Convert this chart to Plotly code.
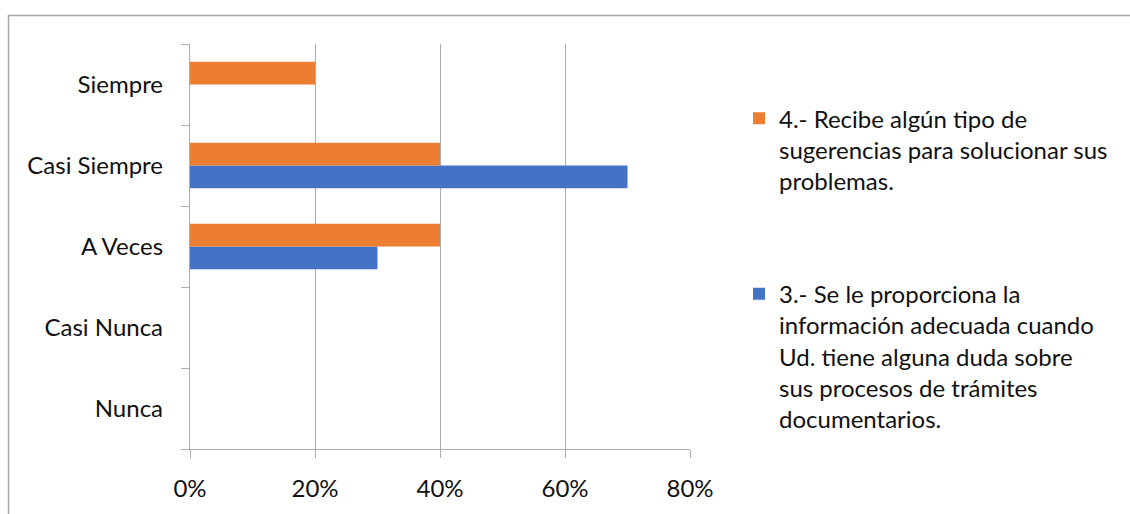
import plotly.graph_objects as go

categories = ["Nunca", "Casi Nunca", "A Veces", "Casi Siempre", "Siempre"]
serie_3 = [0.0, 0.0, 0.30, 0.70, 0.0]
serie_4 = [0.0, 0.0, 0.40, 0.40, 0.20]
name_3 = ("3.- Se le proporciona la<br>información adecuada cuando<br>"
          "Ud. tiene alguna duda sobre<br>sus procesos de trámites<br>documentarios.")
name_4 = "4.- Recibe algún tipo de<br>sugerencias para solucionar sus<br>problemas."
x_ticks = [0, 0.2, 0.4, 0.6, 0.8]
x_labels = ["0%", "20%", "40%", "60%", "80%"]

BLUE = "#4472C4"
ORANGE = "#ED7D31"
GRID = "#ADADAD"
FONT = "Lato"

W, H = 1130, 514
L, R, T, B = 190, 440, 44, 59
PW, PH = W - L - R, H - T - B

fig = go.Figure()
fig.add_trace(go.Bar(y=categories, x=serie_3, name=name_3, orientation="h",
                     marker=dict(color=BLUE, line=dict(width=0)), legend="legend2"))
fig.add_trace(go.Bar(y=categories, x=serie_4, name=name_4, orientation="h",
                     marker=dict(color=ORANGE, line=dict(width=0)), legend="legend"))


def px_x(px):
    return (px - L) / PW


def px_y(py):
    return (H - B - py) / PH


# outer chart frame
fig.add_shape(type="rect", xref="paper", yref="paper",
              x0=px_x(8.5), x1=px_x(1140), y0=px_y(530), y1=px_y(15),
              line=dict(color="#A6A6A6", width=1.5), fillcolor="rgba(0,0,0,0)",
              layer="below")

legend_common = dict(
    font=dict(family=FONT, size=24, color="#111111"),
    bgcolor="rgba(0,0,0,0)", borderwidth=0,
    xanchor="left", yanchor="top", valign="top",
    itemclick=False, itemdoubleclick=False,
)

fig.update_layout(
    width=W, height=H,
    margin=dict(l=L, r=R, t=T, b=B, pad=0),
    paper_bgcolor="white", plot_bgcolor="white",
    barmode="group", bargap=0.44, bargroupgap=0,
    font=dict(family=FONT, size=24, color="#111111"),
    showlegend=True,
    legend=dict(x=px_x(739), y=px_y(97), **legend_common),
    legend2=dict(x=px_x(739), y=px_y(275), **legend_common),
    xaxis=dict(range=[0, 0.8], tickvals=x_ticks, ticktext=x_labels,
               showgrid=True, gridcolor=GRID, gridwidth=1.3,
               showline=True, linecolor=GRID, linewidth=1.3,
               ticks="outside", ticklen=8, tickcolor=GRID, tickwidth=1.3,
               ticklabelstandoff=10, zeroline=False, fixedrange=True),
    yaxis=dict(categoryorder="array", categoryarray=categories,
               showgrid=False, showline=True, linecolor=GRID, linewidth=1.3,
               ticks="outside", ticklen=8, tickcolor=GRID, tickwidth=1.3,
               tickson="boundaries", ticklabelstandoff=21,
               zeroline=False, fixedrange=True),
)

fig.write_html("out.html")
